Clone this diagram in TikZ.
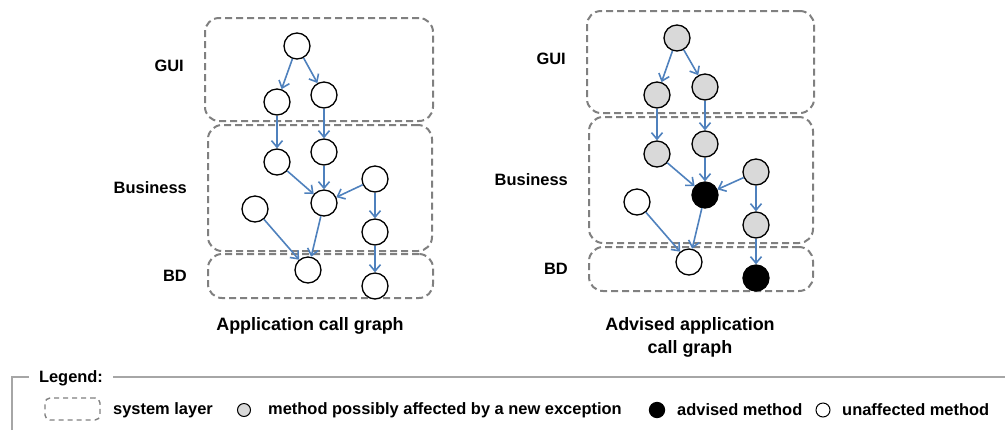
\documentclass[tikz,border=0pt]{standalone}
\usepackage{fontspec}
\setmainfont{Liberation Sans}
\usetikzlibrary{positioning}
\usetikzlibrary{arrows.meta}
\definecolor{callblue}{HTML}{4F81BD}
\definecolor{layergray}{HTML}{808080}
\definecolor{affectedgray}{HTML}{D9D9D9}
\definecolor{legendgray}{HTML}{A6A6A6}
\tikzstyle{method} = [circle,fill=white,draw=black,line width=1.3bp,inner sep=0pt,
minimum size=26bp, on grid]
\tikzstyle{affected} = [method, fill=affectedgray]
\tikzstyle{advised} = [method, fill=black]
\tikzstyle{layer} = [rectangle, draw=layergray, line width=2bp,
dash pattern=on 7bp off 4bp, rounded corners=14bp, inner sep=0pt]
\tikzstyle{layername} = [font=\fontsize{16.5}{18}\selectfont\bfseries, inner sep=0pt]
\tikzstyle{caption} = [font=\fontsize{18}{23}\selectfont\bfseries, align=center, inner sep=0pt]
\tikzstyle{keytext} = [font=\fontsize{16.5}{18}\selectfont\bfseries, inner sep=0pt, anchor=west]
\tikzstyle{call} = [->, draw=callblue, line width=1.6bp]
\tikzset{>={Straight Barb[length=6.5bp,width=11bp]}}
\newcommand{\calls}[2]{ %
  % Draw a call from method #1 to every method in #2.
  \foreach \callee in {#2} { %
    \path (#1) edge [call] (\callee) ;%
  } ;
}

\begin{document}
\begin{tikzpicture}[x=1bp,y=-1bp]
				\useasboundingbox (0,0) rectangle (1005,430);

				% application call graph
				\node[layer, minimum width=228bp, minimum height=103bp] (guiA) at (319,69.5) {};
				\node[layer, minimum width=224bp, minimum height=126bp] (busA) at (320,188) {};
				\node[layer, minimum width=225bp, minimum height=44bp] (bdA) at (320.5,276) {};
				\node[layername, left=20bp of guiA.west, yshift=4bp] (guiAl) {GUI}; %
				\node[layername, left=20bp of busA.west] (busAl) {Business}; %
				\node[layername, left=20bp of bdA.west] (bdAl) {BD}; %

				\node[method] (a1) at (297,46) {} ; %
				\node[method, below=56bp of a1, xshift=-20bp] (a2) {} ;
				\node[method, below=49bp of a1, xshift=27bp] (a3) {} ;
				\node[method, below=60bp of a2] (a4) {} ;
				\node[method, below=57bp of a3] (a5) {} ;
				\node[method, below=51bp of a5] (a7) {} ;
				\node[method, above=24bp of a7, xshift=51bp] (a6) {} ;
				\node[method, below=6bp of a7, xshift=-69bp] (a8) {} ;
				\node[method, below=53bp of a6] (a9) {} ;
				\node[method, below=67bp of a7, xshift=-16bp] (a10) {} ;
				\node[method, below=54bp of a9] (a11) {} ;

				\calls {a1} {a2,a3};
				\calls {a2} {a4};
				\calls {a3} {a5};
				\calls {a4} {a7};
				\calls {a5} {a7};
				\calls {a6} {a7,a9};
				\calls {a7} {a10};
				\calls {a8} {a10};
				\calls {a9} {a11};

				\node[caption] (capA) at (310,326) {Application call graph};

				% advised application call graph
				\node[layer, minimum width=227bp, minimum height=102bp] (guiB) at (700.5,62) {};
				\node[layer, minimum width=224bp, minimum height=126bp] (busB) at (701,180) {};
				\node[layer, minimum width=224bp, minimum height=44bp] (bdB) at (701,269) {};
				\node[layername, left=20bp of guiB.west, yshift=3bp] (guiBl) {GUI}; %
				\node[layername, left=20bp of busB.west] (busBl) {Business}; %
				\node[layername, left=20bp of bdB.west] (bdBl) {BD}; %

				\node[affected] (b1) at (677,38) {} ; %
				\node[affected, below=57bp of b1, xshift=-20bp] (b2) {} ;
				\node[affected, below=49bp of b1, xshift=28bp] (b3) {} ;
				\node[affected, below=59bp of b2] (b4) {} ;
				\node[affected, below=57bp of b3] (b5) {} ;
				\node[advised, below=51bp of b5] (b7) {} ;
				\node[affected, above=23bp of b7, xshift=51bp] (b6) {} ;
				\node[method, below=7bp of b7, xshift=-68bp] (b8) {} ;
				\node[affected, below=53bp of b6] (b9) {} ;
				\node[method, below=67bp of b7, xshift=-16bp] (b10) {} ;
				\node[advised, below=53bp of b9] (b11) {} ;

				\calls {b1} {b2,b3};
				\calls {b2} {b4};
				\calls {b3} {b5};
				\calls {b4} {b7};
				\calls {b5} {b7};
				\calls {b6} {b7,b9};
				\calls {b7} {b10};
				\calls {b8} {b10};
				\calls {b9} {b11};

				\node[caption] (capB) at (690,337) {Advised application\\call graph};

				% legend
				\draw[legendgray, line width=1.2bp] (12,430) |- (1005,377);
				\node[keytext, anchor=center, fill=white, inner xsep=10bp, inner ysep=2bp] (legend) at (71,378) {Legend:};
				\node[layer, minimum width=55bp, minimum height=22bp, rounded corners=5bp,
				line width=1.4bp, dash pattern=on 5bp off 4bp] (keylayer) at (72.5,409) {};
				\node[keytext] (keylayert) at (113,410) {system layer};
				\node[affected, minimum size=13bp, line width=1bp] (keyaffected) at (244,410) {};
				\node[keytext] (keyaffectedt) at (268,410) {method possibly affected by a new exception};
				\node[advised, minimum size=15bp] (keyadvised) at (657,410) {};
				\node[keytext] (keyadvisedt) at (677,410) {advised method};
				\node[method, minimum size=14bp, line width=1bp] (keymethod) at (823,410) {};
				\node[keytext] (keymethodt) at (842,410) {unaffected method};
\end{tikzpicture}
\end{document}
